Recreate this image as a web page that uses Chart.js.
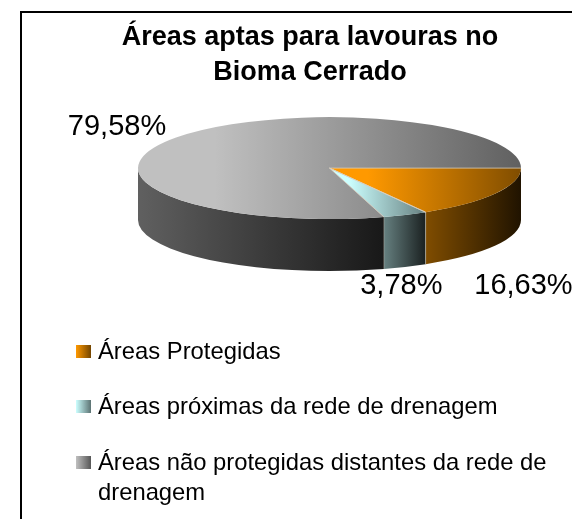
<!DOCTYPE html>
<html lang="pt">
<head>
  <meta charset="UTF-8" />
  <title>Áreas aptas para lavouras no Bioma Cerrado</title>
  <script src="https://cdn.jsdelivr.net/npm/chart.js"></script>
  <style>
    html,body{margin:0;padding:0;background:#fff;}
    #wrap{position:relative;width:572px;height:519px;overflow:hidden;font-family:"Liberation Sans",Arial,sans-serif;}
    #frame{position:absolute;left:20px;top:11px;width:700px;height:700px;border-left:2px solid #000;border-top:2px solid #000;}
    #chart{position:absolute;left:0;top:0;}
    #legend{position:absolute;left:76px;top:0;width:480px;margin:0;padding:0;list-style:none;font-size:23.8px;line-height:30px;color:#000;}
    #legend li{position:absolute;left:22px;width:462px;}
    #legend i{position:absolute;left:-22px;top:9px;width:15px;height:13px;}
  </style>
</head>
<body>
<div id="wrap">
  <div id="frame"></div>
  <canvas id="chart" width="572" height="519"></canvas>
  <ul id="legend"></ul>
</div>

<script>
  const titleLines=['Áreas aptas para lavouras no','Bioma Cerrado'];
  const categories=['Áreas Protegidas','Áreas próximas da rede de drenagem','Áreas não protegidas distantes da rede de drenagem'];
  const shares=[16.63,3.78,79.58];
  const shareLabels=['16,63%','3,78%','79,58%'];

  // colours: lit start of each slice, fade and side wall are the same colour at lower strength
  const topStart=[[255,153,0],[204,255,255],[192,192,192]];
  const legendTops=[336,391,447];

  // look of the fake 3D pie
  const pieRadius=191.5, squash=51/191.5, depth=52, shiftX=19.5;
  // label offset from the rim point of each slice
  const labelOffset=[[28,92],[-4,71],[-59,-11]];

  const rgb=(c,f)=>`rgb(${c.map(v=>Math.round(v*f)).join(',')})`;
  const total=shares.reduce((a,b)=>a+b,0);

  // horizontal extent of a wall piece between two angles, as fraction of the radius
  function extent(a0,a1){
    const xs=[Math.cos(a0),Math.cos(a1)];
    if(a0<Math.PI&&a1>Math.PI) xs.push(-1);
    if(a0<=0||a1>=2*Math.PI) xs.push(1);
    return [Math.min(...xs),Math.max(...xs)];
  }
  function sliceAngles(i){
    const before=shares.slice(0,i).reduce((a,b)=>a+b,0);
    return [before/total*2*Math.PI,(before+shares[i])/total*2*Math.PI];
  }
  // top face of a slice also spans the pie centre
  function topExtent(a0,a1){
    const e=extent(a0,a1);
    return [Math.min(e[0],0),Math.max(e[1],0)];
  }
  function hGrad(ctx,cx,ext,from,to,hold){
    const g=ctx.createLinearGradient(cx+ext[0]*pieRadius,0,cx+ext[1]*pieRadius,0);
    g.addColorStop(0,from);
    if(hold) g.addColorStop(hold,from);
    g.addColorStop(1,to);
    return g;
  }

  const pie3d={
    id:'pie3d',
    beforeDatasetsDraw(chart){
      const ctx=chart.ctx, arcs=chart.getDatasetMeta(0).data;
      const cx=arcs[0].x, cy=arcs[0].y, rx=arcs[0].outerRadius, ry=rx*squash;
      ctx.save();
      ctx.translate(shiftX,0);
      // side wall, only the front half of the pie shows
      arcs.forEach((arc,i)=>{
        const a0=Math.max(arc.startAngle,0), a1=Math.min(arc.endAngle,Math.PI);
        if(a1<=a0) return;
        ctx.beginPath();
        ctx.ellipse(cx,cy,rx,ry,0,a0,a1);
        ctx.ellipse(cx,cy+depth,rx,ry,0,a1,a0,true);
        ctx.closePath();
        ctx.fillStyle=hGrad(ctx,cx,extent(a0,a1),rgb(topStart[i],.5),rgb(topStart[i],.125));
        ctx.fill();
      });
      // top face: library draws the arcs squashed
      ctx.translate(cx,cy);ctx.scale(1,squash);ctx.translate(-cx,-cy);
    },
    afterDatasetsDraw(chart){
      const ctx=chart.ctx, arcs=chart.getDatasetMeta(0).data;
      ctx.restore();
      const cx=arcs[0].x+shiftX, cy=arcs[0].y, rx=arcs[0].outerRadius, ry=rx*squash;
      ctx.save();
      ctx.lineWidth=1;
      // light seams between slices
      arcs.slice(0,2).forEach(arc=>{
        [arc.startAngle,arc.endAngle].forEach(a=>{
          const x=cx+Math.cos(a)*rx, y=cy+Math.sin(a)*ry;
          ctx.strokeStyle='rgba(215,205,190,.8)';
          ctx.beginPath();ctx.moveTo(cx,cy);ctx.lineTo(x,y);ctx.stroke();
          if(a>0){
            ctx.strokeStyle='rgba(215,205,190,.35)';
            ctx.beginPath();ctx.moveTo(x,y);ctx.lineTo(x,y+depth);ctx.stroke();
          }
        });
      });
      // value labels
      ctx.fillStyle='#000';
      ctx.font='29px "Liberation Sans", Arial, sans-serif';
      ctx.textAlign='center';ctx.textBaseline='middle';
      arcs.forEach((arc,i)=>{
        const mid=(arc.startAngle+arc.endAngle)/2;
        ctx.fillText(shareLabels[i],cx+Math.cos(mid)*rx+labelOffset[i][0],cy+Math.sin(mid)*ry+labelOffset[i][1]);
      });
      ctx.restore();
    }
  };

  new Chart(document.getElementById('chart'),{
    type:'pie',
    data:{labels:categories,datasets:[{
      data:shares,
      clip:false,
      borderWidth:0,
      radius:pieRadius,
      backgroundColor(c){
        const chart=c.chart, area=chart.chartArea;
        if(!area) return rgb(topStart[c.dataIndex],1);
        const [a0,a1]=sliceAngles(c.dataIndex);
        return hGrad(chart.ctx,(area.left+area.right)/2,topExtent(a0,a1),rgb(topStart[c.dataIndex],1),rgb(topStart[c.dataIndex],.5),.2);
      }
    }]},
    options:{
      responsive:false,
      animation:false,
      rotation:90,
      layout:{padding:{left:48,right:0,top:0,bottom:273}},
      plugins:{
        legend:{display:false},
        tooltip:{enabled:false},
        title:{display:true,text:titleLines,color:'#000',
          font:{family:'"Liberation Sans", Arial, sans-serif',size:27,weight:'bold',lineHeight:1.3},
          padding:{top:20,bottom:0}}
      }
    },
    plugins:[pie3d]
  });

  // legend, swatches carry the same light to dark fade as the slices
  const legend=document.getElementById('legend');
  categories.forEach((name,i)=>{
    const li=document.createElement('li');
    li.style.top=legendTops[i]+'px';
    li.textContent=name;
    const box=document.createElement('i');
    box.style.background=`linear-gradient(to right,${rgb(topStart[i],1)},${rgb(topStart[i],.45)})`;
    li.appendChild(box);
    legend.appendChild(li);
  });
</script>
</body>
</html>
